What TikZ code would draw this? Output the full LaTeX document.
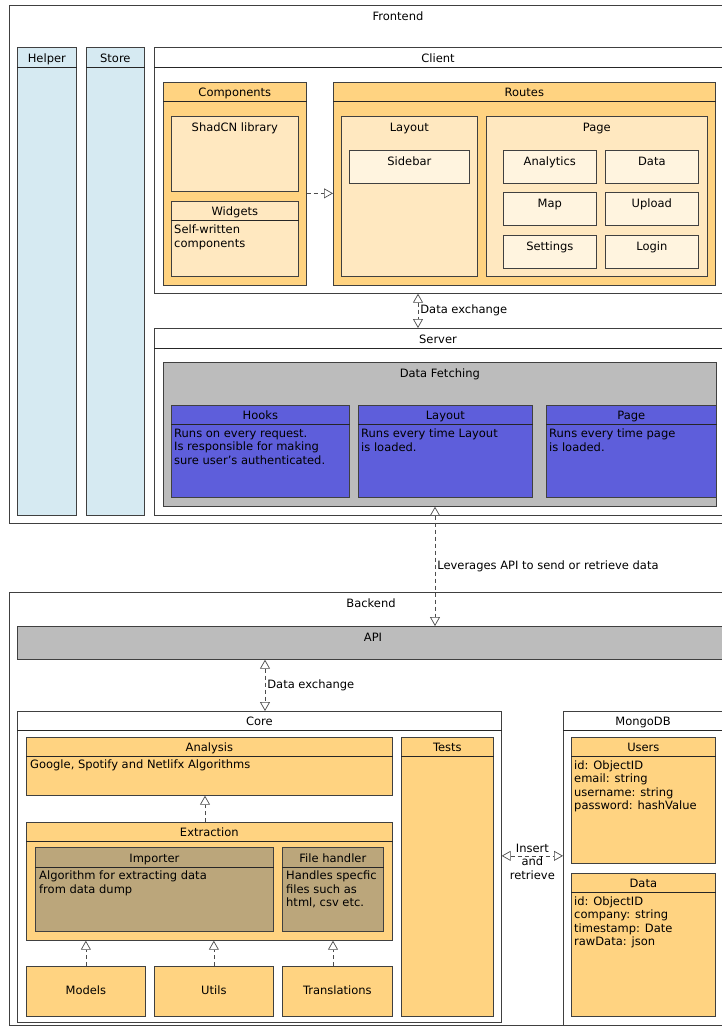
\documentclass[tikz,border=0pt]{standalone}
\usepackage{fontspec}
\setmainfont{DejaVu Sans}
\usetikzlibrary{arrows.meta,positioning}
\definecolor{pkgorange}{HTML}{FFD381}
\definecolor{pkglight}{HTML}{FFE8C0}
\definecolor{pkgpale}{HTML}{FFF4DF}
\definecolor{helperblue}{HTML}{D6EAF2}
\definecolor{fetchgray}{HTML}{BCBCBC}
\definecolor{hookblue}{HTML}{5E5EDB}
\definecolor{importtan}{HTML}{BBA67B}
\newcommand{\lbl}{\fontsize{11.5}{13.3}\selectfont}

\begin{document}
\begin{tikzpicture}[x=1pt,y=-1pt,
  box/.style={draw=black!75,line width=0.7pt,anchor=north west,inner sep=0pt},
  ttl/.style={inner sep=0pt,font=\lbl,text height=8.5pt,text depth=2.5pt},
  txt/.style={inner sep=0pt,font=\lbl,anchor=north west,align=left},
  hdr/.style={draw=black!85,line width=0.7pt},
  dep/.style={draw=black!70,line width=0.7pt,dash pattern=on 4pt off 3pt,
    -{Triangle[open,length=9pt,width=10pt,fill=white]}},
  both/.style={dep,{Triangle[open,length=9pt,width=10pt,fill=white]}-{Triangle[open,length=9pt,width=10pt,fill=white]}}]
  \clip (0,0) rectangle (722,1029);

  % Frontend frame with helper columns.
  \node[box,minimum width=730pt,minimum height=518pt] (front) at (9,5) {};
  \node[ttl] (frontT) at (398,17) {Frontend};
  \node[box,fill=helperblue,minimum width=59pt,minimum height=468pt] (helper) at (17,47) {};
  \draw[hdr] ([yshift=-20pt]helper.north west) -- ([yshift=-20pt]helper.north east);
  \node[ttl] (helperT) at ([yshift=-12pt]helper.north) {Helper};
  \node[box,fill=helperblue,minimum width=58pt,minimum height=468pt] (store) at (86,47) {};
  \draw[hdr] ([yshift=-20pt]store.north west) -- ([yshift=-20pt]store.north east);
  \node[ttl] (storeT) at ([yshift=-12pt]store.north) {Store};

  % Client side.
  \node[box,minimum width=580pt,minimum height=246pt] (client) at (154,47) {};
  \draw[hdr] ([yshift=-20pt]client.north west) -- ([yshift=-20pt]client.north east);
  \node[ttl] (clientT) at (438,59) {Client};

  \node[box,fill=pkgorange,minimum width=143pt,minimum height=203pt] (comp) at (163,82) {};
  \draw[hdr] ([yshift=-19pt]comp.north west) -- ([yshift=-19pt]comp.north east);
  \node[ttl] (compT) at ([yshift=-11.5pt]comp.north) {Components};
  \node[box,fill=pkglight,minimum width=127pt,minimum height=75pt] (shadcn) at (171,116) {};
  \node[ttl] (shadcnT) at ([yshift=-12pt]shadcn.north) {ShadCN library};
  \node[box,fill=pkglight,minimum width=127pt,minimum height=75pt] (widgets) at (171,201) {};
  \draw[hdr] ([yshift=-19pt]widgets.north west) -- ([yshift=-19pt]widgets.north east);
  \node[ttl] (widgetsT) at ([yshift=-11.5pt]widgets.north) {Widgets};
  \node[txt] (widgetsB) at ([shift={(3pt,-24pt)}]widgets.north west) {Self-written\\components};

  \node[box,fill=pkgorange,minimum width=382pt,minimum height=203pt] (routes) at (333,82) {};
  \draw[hdr] ([yshift=-19pt]routes.north west) -- ([yshift=-19pt]routes.north east);
  \node[ttl] (routesT) at ([yshift=-11.5pt]routes.north) {Routes};
  \node[box,fill=pkglight,minimum width=136pt,minimum height=160pt] (layout) at (341,116) {};
  \node[ttl] (layoutT) at ([yshift=-12pt]layout.north) {Layout};
  \node[box,fill=pkgpale,minimum width=120pt,minimum height=33pt] (sidebar) at (349,150) {};
  \node[ttl] (sidebarT) at ([yshift=-12pt]sidebar.north) {Sidebar};
  \node[box,fill=pkglight,minimum width=221pt,minimum height=160pt] (page) at (486,116) {};
  \node[ttl] (pageT) at ([yshift=-12pt]page.north) {Page};
  \node[box,fill=pkgpale,minimum width=93pt,minimum height=33pt] (analytics) at (503,150) {};
  \node[ttl] (analyticsT) at ([yshift=-12pt]analytics.north) {Analytics};
  \node[box,fill=pkgpale,minimum width=93pt,minimum height=33pt] (pdata) at (605,150) {};
  \node[ttl] (pdataT) at ([yshift=-12pt]pdata.north) {Data};
  \node[box,fill=pkgpale,minimum width=93pt,minimum height=33pt] (map) at (503,192) {};
  \node[ttl] (mapT) at ([yshift=-12pt]map.north) {Map};
  \node[box,fill=pkgpale,minimum width=93pt,minimum height=33pt] (upload) at (605,192) {};
  \node[ttl] (uploadT) at ([yshift=-12pt]upload.north) {Upload};
  \node[box,fill=pkgpale,minimum width=93pt,minimum height=33pt] (settings) at (503,235) {};
  \node[ttl] (settingsT) at ([yshift=-12pt]settings.north) {Settings};
  \node[box,fill=pkgpale,minimum width=93pt,minimum height=33pt] (login) at (605,235) {};
  \node[ttl] (loginT) at ([yshift=-12pt]login.north) {Login};

  % Server side.
  \node[box,minimum width=580pt,minimum height=187pt] (server) at (154,328) {};
  \draw[hdr] ([yshift=-20pt]server.north west) -- ([yshift=-20pt]server.north east);
  \node[ttl] (serverT) at (438,340) {Server};
  \node[box,fill=fetchgray,minimum width=553pt,minimum height=144pt] (fetch) at (163,362) {};
  \node[ttl] (fetchT) at ([yshift=-12pt]fetch.north) {Data Fetching};
  \node[box,fill=hookblue,minimum width=178pt,minimum height=92pt] (hooks) at (171,405) {};
  \draw[hdr] ([yshift=-19pt]hooks.north west) -- ([yshift=-19pt]hooks.north east);
  \node[ttl] (hooksT) at ([yshift=-11.5pt]hooks.north) {Hooks};
  \node[txt] (hooksB) at ([shift={(3pt,-24pt)}]hooks.north west)
    {Runs on every request.\\Is responsible for making\\sure user's authenticated.};
  \node[box,fill=hookblue,minimum width=174pt,minimum height=92pt] (slayout) at (358,405) {};
  \draw[hdr] ([yshift=-19pt]slayout.north west) -- ([yshift=-19pt]slayout.north east);
  \node[ttl] (slayoutT) at ([yshift=-11.5pt]slayout.north) {Layout};
  \node[txt] (slayoutB) at ([shift={(3pt,-24pt)}]slayout.north west) {Runs every time Layout\\is loaded.};
  \node[box,fill=hookblue,minimum width=170pt,minimum height=92pt] (spage) at (546,405) {};
  \draw[hdr] ([yshift=-19pt]spage.north west) -- ([yshift=-19pt]spage.north east);
  \node[ttl] (spageT) at ([yshift=-11.5pt]spage.north) {Page};
  \node[txt] (spageB) at ([shift={(3pt,-24pt)}]spage.north west) {Runs every time page\\is loaded.};

  % Backend frame.
  \node[box,minimum width=730pt,minimum height=433pt] (back) at (9,592) {};
  \node[ttl] (backT) at (371,604) {Backend};
  \node[box,fill=fetchgray,minimum width=720pt,minimum height=33pt] (api) at (17,626) {};
  \node[ttl] (apiT) at (373,638) {API};

  \node[box,minimum width=484pt,minimum height=311pt] (core) at (17,711) {};
  \draw[hdr] ([yshift=-19pt]core.north west) -- ([yshift=-19pt]core.north east);
  \node[ttl] (coreT) at ([yshift=-11.5pt]core.north) {Core};
  \node[box,fill=pkgorange,minimum width=366pt,minimum height=58pt] (analysis) at (26,737) {};
  \draw[hdr] ([yshift=-19pt]analysis.north west) -- ([yshift=-19pt]analysis.north east);
  \node[ttl] (analysisT) at ([yshift=-11.5pt]analysis.north) {Analysis};
  \node[txt] (analysisB) at ([shift={(4pt,-23pt)}]analysis.north west) {Google, Spotify and Netlifx Algorithms};
  \node[box,fill=pkgorange,minimum width=366pt,minimum height=118pt] (extraction) at (26,822) {};
  \draw[hdr] ([yshift=-19pt]extraction.north west) -- ([yshift=-19pt]extraction.north east);
  \node[ttl] (extractionT) at ([yshift=-11.5pt]extraction.north) {Extraction};
  \node[box,fill=importtan,minimum width=238pt,minimum height=84pt] (importer) at (35,847) {};
  \draw[hdr] ([yshift=-20pt]importer.north west) -- ([yshift=-20pt]importer.north east);
  \node[ttl] (importerT) at ([yshift=-12pt]importer.north) {Importer};
  \node[txt] (importerB) at ([shift={(4pt,-24pt)}]importer.north west) {Algorithm for extracting data\\from data dump};
  \node[box,fill=importtan,minimum width=101pt,minimum height=84pt] (handler) at (282,847) {};
  \draw[hdr] ([yshift=-20pt]handler.north west) -- ([yshift=-20pt]handler.north east);
  \node[ttl] (handlerT) at ([yshift=-12pt]handler.north) {File handler};
  \node[txt] (handlerB) at ([shift={(4pt,-24pt)}]handler.north west) {Handles specfic\\files such as\\html, csv etc.};
  \node[box,fill=pkgorange,minimum width=119pt,minimum height=50pt] (models) at (26,966) {};
  \node[ttl] (modelsT) at (models.center) {Models};
  \node[box,fill=pkgorange,minimum width=119pt,minimum height=50pt] (utils) at (154,966) {};
  \node[ttl] (utilsT) at (utils.center) {Utils};
  \node[box,fill=pkgorange,minimum width=110pt,minimum height=50pt] (transl) at (282,966) {};
  \node[ttl] (translT) at (transl.center) {Translations};
  \node[box,fill=pkgorange,minimum width=92pt,minimum height=279pt] (tests) at (401,737) {};
  \draw[hdr] ([yshift=-19pt]tests.north west) -- ([yshift=-19pt]tests.north east);
  \node[ttl] (testsT) at ([yshift=-11.5pt]tests.north) {Tests};

  % Database.
  \node[box,minimum width=170pt,minimum height=314pt] (mongo) at (563,711) {};
  \draw[hdr] ([yshift=-19pt]mongo.north west) -- ([yshift=-19pt]mongo.north east);
  \node[ttl] (mongoT) at (643,722.5) {MongoDB};
  \node[box,fill=pkgorange,minimum width=144pt,minimum height=126pt] (users) at (571,737) {};
  \draw[hdr] ([yshift=-19pt]users.north west) -- ([yshift=-19pt]users.north east);
  \node[ttl] (usersT) at ([yshift=-11.5pt]users.north) {Users};
  \node[txt] (usersB) at ([shift={(3pt,-23.5pt)}]users.north west)
    {id: ObjectID\\email: string\\username: string\\password: hashValue};
  \node[box,fill=pkgorange,minimum width=144pt,minimum height=143pt] (mdata) at (571,873) {};
  \draw[hdr] ([yshift=-19pt]mdata.north west) -- ([yshift=-19pt]mdata.north east);
  \node[ttl] (mdataT) at ([yshift=-11.5pt]mdata.north) {Data};
  \node[txt] (mdataB) at ([shift={(3pt,-23.5pt)}]mdata.north west)
    {id: ObjectID\\company: string\\timestamp: Date\\rawData: json};

  % Dependencies.
  \draw[dep] ([yshift=-9.5pt]comp.east) -- ([yshift=-9.5pt]routes.west);
  \draw[both] ([xshift=264pt]client.south west) -- ([xshift=264pt]server.north west)
    node[ttl,midway,right=2pt] {Data exchange};
  \draw[both] ([xshift=272pt]fetch.south west) -- ([xshift=418pt]api.north west)
    node[ttl,midway,right=2pt] {Leverages API to send or retrieve data};
  \draw[both] ([xshift=248pt]api.south west) -- ([xshift=248pt]core.north west)
    node[ttl,midway,right=2pt] {Data exchange};
  \draw[dep] ([xshift=179pt]extraction.north west) -- ([xshift=179pt]analysis.south west);
  \draw[dep] (models.north) -- (models.north |- extraction.south);
  \draw[dep] (utils.north) -- (utils.north |- extraction.south);
  \draw[dep] ([xshift=51pt]transl.north west) -- ([xshift=307pt]extraction.south west);
  \draw[both] ([yshift=11pt]core.east) -- ([yshift=11pt]core.east -| mongo.west)
    node[midway,inner sep=0pt,font=\lbl,align=center,yshift=-6pt] {Insert\\and\\retrieve};
\end{tikzpicture}
\end{document}
